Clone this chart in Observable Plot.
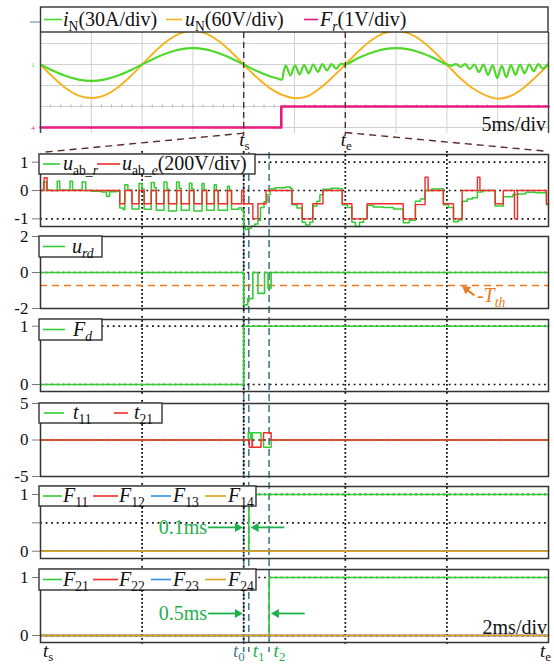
<!DOCTYPE html>
<html>
<head>
<meta charset="utf-8">
<script src="https://cdn.jsdelivr.net/npm/d3@7"></script>
<script src="https://cdn.jsdelivr.net/npm/@observablehq/plot@0.6"></script>
<style>
  body { margin: 0; background: #fff; }
  #fig { position: relative; width: 554px; height: 666px; overflow: hidden; background: #fff; }
  #fig svg { position: absolute; left: 0; overflow: visible; }
</style>
</head>
<body>
<div id="fig"></div>
<script>
// ---------- upper oscilloscope capture (5 ms/div, values in divisions) ----------
const scopeTime = [0,1.25,2.5,3.75,5,6.25,7.5,8.75,10,11.25,12.5,13.75,15,16.25,17.5,18.75,20,21.25,22.5,23.75,25,26.25,27.5,28.75,30,31.25,32.5,33.75,35,36.25,37.5,38.75,40,41.25,42.5,43.75,45,46.25,47.5,48.75,50];
const uN = [0,-0.61,-1.13,-1.48,-1.6,-1.48,-1.13,-0.61,0,0.61,1.13,1.48,1.6,1.48,1.13,0.61,0,-0.6,-1.1,-1.44,-1.6,-1.52,-1.13,-0.6,0,0.61,1.13,1.48,1.6,1.48,1.13,0.61,0,-0.62,-1.12,-1.46,-1.63,-1.5,-1.13,-0.6,0];
const iNTrace = [
  [0,0],[1.25,-0.3],[2.5,-0.55],[3.75,-0.72],[5,-0.78],[6.25,-0.72],[7.5,-0.55],[8.75,-0.3],[10,0],
  [11.25,0.3],[12.5,0.55],[13.75,0.72],[15,0.78],[16.25,0.72],[17.5,0.55],[18.75,0.3],[20,0],
  [21.25,-0.3],[22.5,-0.55],[23.4,-0.68],[23.75,-0.72],
  [23.95,-0.3],[24.15,-0.05],[24.6,-0.52],[25.05,-0.04],[25.5,-0.47],[25.95,-0.02],[26.4,-0.42],[26.85,0],
  [27.3,-0.35],[27.75,0.02],[28.2,-0.28],[28.65,0.02],[29.1,-0.2],[29.55,0.03],[30,0],
  [31.25,0.3],[32.5,0.55],[33.75,0.72],[35,0.78],[36.25,0.72],[37.5,0.55],[38.75,0.3],[40,0],
  [40.45,-0.05],[40.9,0.02],[41.35,-0.12],[41.8,0.02],[42.25,-0.22],[42.7,0],[43.15,-0.36],[43.6,0],
  [44.05,-0.5],[44.5,-0.03],[44.95,-0.64],[45.4,-0.06],[45.85,-0.6],[46.3,-0.03],[46.75,-0.5],[47.2,0],
  [47.65,-0.42],[48.1,0],[48.55,-0.32],[49,0.02],[49.45,-0.2],[49.9,0],[50,0]
];
const FrTrace = [[0,-3],[23.7,-2],[50,-2]];
const scopeGridX = [5,10,15,20,25,30,35,40,45];
const scopeGridY = [1,0,-1,-2,-3];
const zoomWindow = [20, 30];          // t_s and t_e on the 5 ms/div time base

// ---------- zoomed window t_s .. t_e (2 ms/div, time in ms) ----------
const gridTimes = [2,4,6,8];
const t0 = 4.0, t1 = 4.1, t2 = 4.5;
const eventTimes = [t0, t1, t2];

const uabR = [[0,0],[0.06,0.3],[0.12,0.02],[0.2,0],[0.33,0.33],[0.38,0.02],[0.58,0.33],[0.63,0.02],[0.82,0.3],[0.89,0],[1.0,-0.03],[1.2,-0.05],[1.3,-0.2],[1.36,-0.04],[1.5,-0.02],
  [1.56,-0.62],[1.63,-0.68],[1.66,0.2],[1.72,0.02],[1.8,-0.65],[1.94,0.25],[2.0,0.05],[2.04,-0.66],[2.18,0.28],[2.24,0.1],[2.28,-0.7],[2.43,0.3],[2.49,0.05],[2.52,-0.72],[2.68,0.3],[2.73,0.08],[2.77,-0.7],[2.93,0.26],[2.98,0.05],[3.02,-0.72],[3.18,0.25],[3.22,0.02],[3.27,-0.7],[3.42,0.2],[3.46,0],[3.5,-0.7],[3.68,0.15],[3.72,-0.02],[3.76,-0.66],[3.9,-0.62],[3.96,-0.7],
  [4.0,-1.25],[4.03,-1.38],[4.08,-1.33],[4.15,-1.26],[4.22,-1.18],[4.28,-1.05],[4.33,-0.6],[4.4,-0.4],[4.46,-0.15],[4.52,0.05],[4.62,0.1],[4.82,0.12],[4.92,0.08],
  [4.95,-0.5],[5.05,-0.62],[5.15,-1.12],[5.22,-1.22],[5.3,-1.12],[5.36,-0.55],[5.44,-0.38],[5.5,-0.15],[5.56,0.04],[5.72,0.08],[5.88,0.06],
  [5.94,-0.5],[6.04,-0.6],[6.13,-1.12],[6.2,-1.27],[6.28,-1.12],[6.36,-1.0],[6.43,-0.52],[6.55,-0.58],[6.75,-0.6],[6.95,-0.65],
  [7.14,-1.14],[7.26,-1.05],[7.38,-0.38],[7.48,-0.3],[7.57,0],[7.7,0.05],[7.86,0.06],
  [7.93,-0.5],[8.03,-0.6],[8.13,-1.1],[8.22,-1.04],[8.3,-0.38],[8.4,-0.3],[8.5,-0.26],[8.6,-0.05],[8.7,0],
  [8.95,-0.55],[9.11,-0.22],[9.3,-0.14],[9.4,-0.12],[9.55,-0.06],[9.75,-0.08],[9.96,-0.5],[10,-0.5]];
const uabE = [[0,0],[0.07,0.45],[0.13,0],
  [1.56,-0.47],[1.66,0],[1.8,-0.47],[1.94,0],[2.04,-0.47],[2.18,0],[2.28,-0.47],[2.43,0],[2.52,-0.47],[2.68,0],[2.77,-0.47],[2.93,0],[3.02,-0.47],[3.18,0],[3.27,-0.47],[3.42,0],[3.5,-0.47],[3.68,0],[3.76,-0.47],[3.96,0],
  [4.0,-0.47],[4.18,-1.0],[4.28,-0.47],[4.44,0],[4.95,-0.47],[5.15,-1.0],[5.36,-0.47],[5.56,0],[5.94,-0.47],[6.13,-1.0],[6.43,-0.47],[7.14,-1.0],[7.38,-0.5],[7.57,0.47],[7.63,0],[7.93,-0.47],[8.13,-1.0],[8.3,0],[8.6,0.47],[8.65,0],[8.95,-0.47],[9.11,0],[9.33,-1.0],[9.39,0],[9.96,-0.47],[10,-0.47]];
const urd = [[0,0],[4.0,-1.8],[4.08,-1.45],[4.18,0],[4.28,-1.16],[4.41,0],[4.48,-0.88],[4.54,0],[10,0]];
const thresholdTth = 0.72;
const Fd = [[0,0],[t0,1],[10,1]];
const t11 = [[0,0],[4.09,1],[4.14,0],[4.17,1],[4.34,0],[4.39,-1],[4.54,0],[10,0]];
const t21 = [[0,0],[4.11,-1],[4.165,0],[4.17,-1],[4.34,0],[4.39,1],[4.54,0],[10,0]];
const F11 = [[0,0],[t1,1],[10,1]];
const F12 = [[0,0],[10,0]], F13 = [[0,0],[10,0]], F14 = [[0,0],[10,0]];
const F21 = [[0,0],[t2,1],[10,1]];
const F22 = [[0,0],[10,0]], F23 = [[0,0],[10,0]], F24 = [[0,0],[10,0]];

// ---------- styling ----------
const SERIF = "'Liberation Serif','Times New Roman',serif";
const W = 554, LEFT = 40, RIGHT = 548;
const LIME = "#4fd82a", YELLOW = "#f5b324", PINK = "#e8197d";
const GREEN = "#34cc34", RED = "#f22b2b", BLUE = "#2f8fe6", GOLD = "#dca41e";
const ORANGE = "#ea7a22", TEAL = "#4a7b8c", MARK_GREEN = "#1fb04c", BROWN = "#5b2b2b";

const fig = document.getElementById("fig");
const pts = a => a.map(([t, v]) => ({t, v}));

function addRich(parent, x, y, parts, {size = 20, fill = "#111", anchor = "start", drop = 0.26} = {}) {
  const text = parent.append("text").attr("x", x).attr("y", y)
    .attr("font-family", SERIF).attr("font-size", size)
    .attr("fill", fill).attr("text-anchor", anchor);
  let shift = 0;
  for (const [str, flags = ""] of parts) {
    const span = text.append("tspan").text(str);
    if (flags.includes("i")) span.attr("font-style", "italic");
    const sub = flags.includes("s");
    const target = sub ? size * drop : 0;
    if (target !== shift) { span.attr("dy", target - shift); shift = target; }
    if (sub) span.attr("font-size", size * 0.68);
  }
  return text;
}

function addLegend(svg, offset, box, items, size = 20) {
  const g = d3.select(svg).append("g");
  g.append("rect").attr("x", box[0]).attr("y", box[1] - offset)
    .attr("width", box[2] - box[0]).attr("height", box[3] - box[1])
    .attr("fill", "white").attr("stroke", "#333").attr("stroke-width", 1.4);
  const mid = (box[1] + box[3]) / 2 - offset;
  for (const it of items) {
    g.append("line").attr("x1", it.line[0]).attr("x2", it.line[1])
      .attr("y1", mid).attr("y2", mid).attr("stroke", it.color).attr("stroke-width", 1.6);
    addRich(g, it.at, mid + size * 0.3, it.label, {size});
  }
  return g;
}

// ---------- event markers spanning the zoomed panels (drawn first, underneath) ----------
const OVER_TOP = 152;
const overlay = Plot.plot({
  width: W, height: 500, marginTop: 0, marginBottom: 0, marginLeft: LEFT, marginRight: W - RIGHT,
  x: {domain: [0, 10], axis: null}, y: {domain: [0, 1], axis: null},
  style: {background: "transparent", overflow: "visible"},
  marks: [Plot.ruleX(eventTimes, {stroke: TEAL, strokeWidth: 1.6, strokeDasharray: "7,4"})]
});
overlay.style.top = OVER_TOP + "px";
fig.append(overlay);
{
  const s = d3.select(overlay), ox = overlay.scale("x"), by = 657 - OVER_TOP;
  const o = {size: 19, drop: 0.2};
  addRich(s, ox.apply(0) + 3, by, [["t", "i"], ["s", "s"]], o);
  addRich(s, ox.apply(10) + 3, by, [["t", "i"], ["e", "s"]], {...o, anchor: "end"});
  addRich(s, ox.apply(t0) + 1.5, by, [["t", "i"], ["0", "s"]], {...o, fill: TEAL, anchor: "end"});
  addRich(s, ox.apply(t1) + 4.5, by, [["t", "i"], ["1", "s"]], {...o, fill: MARK_GREEN});
  addRich(s, ox.apply(t2) + 5, by, [["t", "i"], ["2", "s"]], {...o, fill: MARK_GREEN});
}

// ---------- upper capture ----------
const yTop = (64 - 32) / 21, yBottom = -(133 - 64) / 21;
const scope = Plot.plot({
  width: W, height: 133, marginTop: 32, marginBottom: 0, marginLeft: LEFT, marginRight: W - RIGHT,
  x: {domain: [0, 50], axis: null},
  y: {domain: [yBottom, yTop], axis: null},
  style: {background: "transparent", overflow: "visible"},
  marks: [
    Plot.ruleX(scopeGridX, {stroke: "#d0d0d0", strokeWidth: 1}),
    Plot.ruleY(scopeGridY, {stroke: "#d0d0d0", strokeWidth: 1}),
    Plot.ruleX(d3.range(1, 50, 1), {y1: -1.92, y2: -2.08, stroke: "#b8b8b8"}),
    Plot.line(pts(FrTrace), {x: "t", y: "v", curve: "step-after", stroke: PINK, strokeWidth: 2.6}),
    Plot.line(scopeTime.map((t, i) => ({t, v: uN[i]})), {x: "t", y: "v", curve: "catmull-rom", stroke: YELLOW, strokeWidth: 2, clip: true}),
    Plot.line(pts(iNTrace), {x: "t", y: "v", curve: "catmull-rom", stroke: LIME, strokeWidth: 2.2, clip: true}),
    Plot.ruleX([0, 50], {y1: yTop, y2: yBottom, stroke: "#444", strokeWidth: 1.5}),
    Plot.ruleX(zoomWindow, {y1: yTop, y2: -3.4, stroke: BROWN, strokeWidth: 1.4, strokeDasharray: "6,4"}),
    Plot.link([{x1: zoomWindow[0], y1: -3.27, x2: 0, y2: -4.19}, {x1: zoomWindow[1], y1: -3.24, x2: 50, y2: -4.14}],
      {x1: "x1", y1: "y1", x2: "x2", y2: "y2", stroke: BROWN, strokeWidth: 1.4, strokeDasharray: "7,5"})
  ]
});
scope.style.top = "0px";
fig.append(scope);
addLegend(scope, 0, [40.5, 7, 548, 32], [
  {line: [44, 62], color: LIME, at: 63, label: [["i", "i"], ["N", "s"], ["(30A/div)"]]},
  {line: [166, 182], color: YELLOW, at: 185, label: [["u", "i"], ["N", "s"], ["(60V/div)"]]},
  {line: [304, 318], color: PINK, at: 320, label: [["F", "i"], ["r", "si"], ["(1V/div)"]]}
]);
{
  const s = d3.select(scope);
  const sx = scope.scale("x");
  s.append("line").attr("x1", 30).attr("x2", 40).attr("y1", 22).attr("y2", 22).attr("stroke", "#5b7d8f");
  s.append("text").attr("x", 33).attr("y", 67).attr("font-size", 7).attr("font-family", SERIF).attr("fill", LIME).text("1");
  s.append("text").attr("x", 33).attr("y", 130).attr("font-size", 7).attr("font-family", SERIF).attr("fill", PINK).text("4");
  s.append("text").attr("x", 546).attr("y", 131).attr("text-anchor", "end").attr("font-size", 20).attr("font-family", SERIF).attr("fill", "#111").text("5ms/div");
  addRich(s, sx.apply(zoomWindow[0]) - 4, 146, [["t", "i"], ["s", "s"]], {size: 19, drop: 0.2});
  addRich(s, sx.apply(zoomWindow[1]) - 4, 146, [["t", "i"], ["e", "s"]], {size: 19, drop: 0.2});
}

// ---------- zoomed panels ----------
function panel({top, bottom, domain, ticks, grid, marks}) {
  const chart = Plot.plot({
    width: W, height: bottom - top, marginTop: 0, marginBottom: 0, marginLeft: LEFT, marginRight: W - RIGHT,
    x: {domain: [0, 10], axis: null},
    y: {domain},
    style: {background: "transparent", overflow: "visible"},
    marks: [
      Plot.ruleY(grid, {stroke: "#111", strokeWidth: 1.7, strokeDasharray: "1.8,3.8"}),
      Plot.ruleX(gridTimes, {stroke: "#111", strokeWidth: 1.8, strokeDasharray: "1.8,2.2", insetTop: -3, insetBottom: -3}),
      ...marks,
      Plot.frame({stroke: "#333", strokeWidth: 1.5}),
      Plot.axisY(ticks, {label: null, tickSize: 8, tickPadding: 4, fontSize: 17, fontFamily: SERIF,
        stroke: "#777", fill: "#111", tickFormat: d => (d === 0.5 ? "" : String(d))})
    ]
  });
  chart.style.top = top + "px";
  fig.append(chart);
  return chart;
}
const step = (data, stroke, w = 1.5) => Plot.line(pts(data), {x: "t", y: "v", curve: "step-after", stroke, strokeWidth: w});
const head = (t, v, rotate, fill) => Plot.dot([{t, v}], {x: "t", y: "v", symbol: "triangle", r: 3.4, rotate, fill, stroke: "none"});

// u_ab
const p1 = panel({top: 154, bottom: 226, domain: [-1.27, 1.27], ticks: [1, 0, -1], grid: [1, 0, -1],
  marks: [step(uabR, GREEN), step(uabE, RED, 1.4)]});
addLegend(p1, 154, [39, 154, 255, 174], [
  {line: [43, 60], color: GREEN, at: 63, label: [["u", "i"], ["ab_", "s"], ["r", "si"]]},
  {line: [97, 120], color: RED, at: 122, label: [["u", "i"], ["ab_", "s"], ["e", "si"], ["(200V/div)"]]}
]);

// u_rd with threshold
const p2 = panel({top: 236, bottom: 308, domain: [-2, 2], ticks: [2, 0, -2], grid: [0],
  marks: [
    Plot.ruleY([-thresholdTth], {stroke: ORANGE, strokeWidth: 1.5, strokeDasharray: "7,5"}),
    step(urd, GREEN, 1.6),
    Plot.link([{a: 8.54, b: -1.27, c: 8.39, d: -0.94}], {x1: "a", y1: "b", x2: "c", y2: "d", stroke: ORANGE, strokeWidth: 2}),
    head(8.38, -0.92, -53, ORANGE)
  ]});
addLegend(p2, 236, [39, 236, 102, 257], [
  {line: [43, 65], color: GREEN, at: 72, label: [["u", "i"], ["rd", "si"]]}
]);
addRich(d3.select(p2), p2.scale("x").apply(8.6), 302 - 236, [["-"], ["T", "i"], ["th", "si"]], {size: 20, fill: ORANGE});

// F_d
const p3 = panel({top: 319, bottom: 391, domain: [-0.12, 1.115], ticks: [1, 0], grid: [1, 0],
  marks: [step(Fd, GREEN, 1.6)]});
addLegend(p3, 319, [39, 319, 102, 340], [
  {line: [43, 65], color: GREEN, at: 73, label: [["F", "i"], ["d", "si"]]}
]);

// t11 / t21
const p4 = panel({top: 403, bottom: 476, domain: [-5, 5], ticks: [5, 0, -5], grid: [0],
  marks: [step(t11, GREEN, 1.5), step(t21, RED, 1.5)]});
addLegend(p4, 403, [39, 403, 162, 423], [
  {line: [44, 64], color: GREEN, at: 73, label: [["t", "i"], ["11", "s"]]},
  {line: [114, 128], color: RED, at: 134, label: [["t", "i"], ["21", "s"]]}
]);

// F11..F14 with 0.1 ms marker
const gap1Y = 0.42, gap2Y = 0.38;
const p5 = panel({top: 486, bottom: 558, domain: [-0.128, 1.14], ticks: [1, 0.5, 0], grid: [1, 0.5, 0],
  marks: [
    step(F11, GREEN, 1.6), step(F12, RED), step(F13, BLUE), step(F14, GOLD),
    Plot.link([{a: 3.3, b: t0 - 0.12}, {a: 4.8, b: t1 + 0.14}], {x1: "a", x2: "b", y1: gap1Y, y2: gap1Y, stroke: MARK_GREEN, strokeWidth: 1.8}),
    head(t0 - 0.12, gap1Y, 90, MARK_GREEN), head(t1 + 0.14, gap1Y, -90, MARK_GREEN),
    Plot.text([{t: 3.3, v: gap1Y, s: `${Math.round((t1 - t0) * 10) / 10}ms`}], {x: "t", y: "v", text: "s", textAnchor: "end", dx: -1, fill: MARK_GREEN, fontSize: 20, fontFamily: SERIF})
  ]});
addLegend(p5, 486, [39, 486, 256, 506], [
  {line: [43, 62], color: GREEN, at: 63, label: [["F", "i"], ["11", "s"]]},
  {line: [93, 118], color: RED, at: 119, label: [["F", "i"], ["12", "s"]]},
  {line: [151, 171], color: BLUE, at: 173, label: [["F", "i"], ["13", "s"]]},
  {line: [205, 226], color: GOLD, at: 228, label: [["F", "i"], ["14", "s"]]}
]);

// F21..F24 with 0.5 ms marker
const p6 = panel({top: 569, bottom: 642, domain: [-0.12, 1.138], ticks: [1, 0], grid: [1, 0],
  marks: [
    step(F21, GREEN, 1.6), step(F22, RED), step(F23, BLUE), step(F24, GOLD),
    Plot.link([{a: 3.3, b: t0 - 0.12}, {a: 5.2, b: t2 + 0.14}], {x1: "a", x2: "b", y1: gap2Y, y2: gap2Y, stroke: MARK_GREEN, strokeWidth: 1.8}),
    head(t0 - 0.12, gap2Y, 90, MARK_GREEN), head(t2 + 0.14, gap2Y, -90, MARK_GREEN),
    Plot.text([{t: 3.3, v: gap2Y, s: `${Math.round((t2 - t0) * 10) / 10}ms`}], {x: "t", y: "v", text: "s", textAnchor: "end", dx: -1, fill: MARK_GREEN, fontSize: 20, fontFamily: SERIF})
  ]});
addLegend(p6, 569, [39, 569, 256, 590], [
  {line: [43, 62], color: GREEN, at: 63, label: [["F", "i"], ["21", "s"]]},
  {line: [93, 118], color: RED, at: 119, label: [["F", "i"], ["22", "s"]]},
  {line: [151, 171], color: BLUE, at: 173, label: [["F", "i"], ["23", "s"]]},
  {line: [205, 226], color: GOLD, at: 228, label: [["F", "i"], ["24", "s"]]}
]);
d3.select(p6).append("text").attr("x", 547).attr("y", 634 - 569).attr("text-anchor", "end")
  .attr("font-family", SERIF).attr("font-size", 20).attr("fill", "#111").text("2ms/div");
</script>
</body>
</html>
